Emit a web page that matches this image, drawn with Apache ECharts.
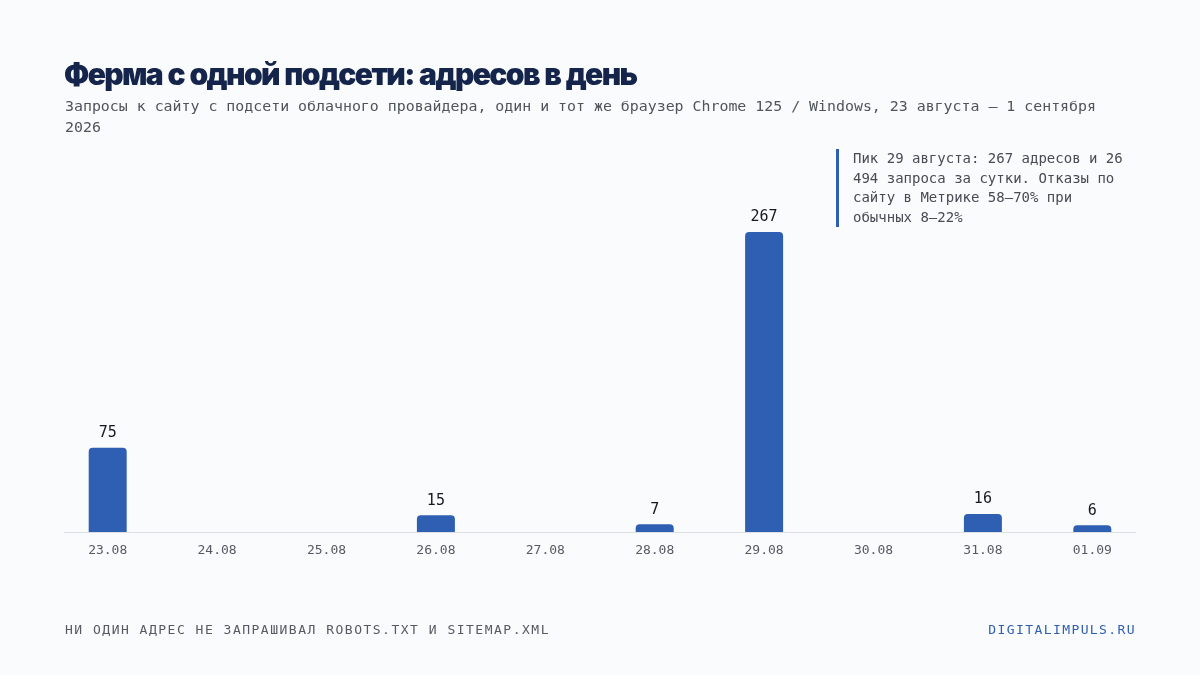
<!DOCTYPE html>
<html lang="ru">
<head>
    <meta charset="UTF-8">
    <title>Ферма с одной подсети</title>
    <script src="https://cdn.jsdelivr.net/npm/echarts@6/dist/echarts.min.js"></script>
    <style>
        html, body { margin: 0; padding: 0; background: #fafbfc; }
        #wrap { position: relative; width: 1200px; height: 675px; overflow: hidden; }
        #chart { position: absolute; left: 0; top: 0; width: 1200px; height: 675px; }
        .mono { font-family: "DejaVu Sans Mono", "Liberation Mono", monospace; }
        #title {
            position: absolute; left: 64px; top: 56px; margin: 0;
            font-family: Inter, "Noto Sans", sans-serif; font-weight: 900;
            font-size: 30px; letter-spacing: -1.6px; word-spacing: 1px; color: #14244a;
        }
        #subtitle {
            position: absolute; left: 65px; top: 96px; width: 1050px; margin: 0;
            font-size: 14.9px; line-height: 21px; color: #4f545c;
        }
        #note {
            position: absolute; left: 836px; top: 149px; width: 282px;
            border-left: 3px solid #2f5fb3; padding-left: 14px;
            font-size: 14px; line-height: 19.5px; color: #464b54;
        }
        #footer, #source {
            position: absolute; top: 622px; font-size: 13px;
        }
        #footer { left: 65px; color: #555a63; letter-spacing: 1.5px; }
        #source { right: 64px; color: #2f5fb3; letter-spacing: 1.4px; }
    </style>
</head>
<body>
<div id="wrap">
    <div id="chart"></div>
    <h1 id="title">Ферма с одной подсети: адресов в день</h1>
    <p id="subtitle" class="mono">Запросы к сайту с подсети облачного провайдера, один и тот же браузер Chrome 125 / Windows, 23 августа — 1 сентября 2026</p>
    <div id="note" class="mono">Пик 29 августа: 267 адресов и 26 494 запроса за сутки. Отказы по сайту в Метрике 58–70% при обычных 8–22%</div>
    <div id="footer" class="mono">НИ ОДИН АДРЕС НЕ ЗАПРАШИВАЛ ROBOTS.TXT И SITEMAP.XML</div>
    <div id="source" class="mono">DIGITALIMPULS.RU</div>
</div>

<script type="text/javascript">
    // даты и число адресов за сутки
    var days = ['23.08', '24.08', '25.08', '26.08', '27.08', '28.08', '29.08', '30.08', '31.08', '01.09'];
    var addresses = [75, 0, 0, 15, 0, 7, 267, 0, 16, 6];

    var chart = echarts.init(document.getElementById('chart'));
    chart.setOption({
        animation: false,
        grid: { left: 53, right: 53, top: 195, bottom: 143 },
        xAxis: {
            type: 'category',
            data: days,
            axisLine: { show: false },
            axisTick: { show: false },
            axisLabel: {
                margin: 12,
                color: '#555a63',
                fontFamily: 'DejaVu Sans Mono',
                fontSize: 13
            }
        },
        yAxis: {
            type: 'value',
            min: 0,
            max: 300,
            show: false
        },
        graphic: [{
            // линия оси: чуть уже сетки, как в оригинале
            type: 'line',
            shape: { x1: 64, y1: 532.5, x2: 1136, y2: 532.5 },
            style: { stroke: '#dcdfe6', lineWidth: 1 }
        }],
        series: [{
            type: 'bar',
            data: addresses,
            barWidth: 38,
            itemStyle: { color: '#2f5fb3', borderRadius: [4, 4, 0, 0] },
            label: {
                show: true,
                position: 'top',
                distance: 7,
                color: '#16181d',
                fontFamily: 'DejaVu Sans Mono',
                fontSize: 15,
                formatter: function (p) { return p.value > 0 ? p.value : ''; }
            }
        }]
    });
</script>
</body>
</html>
